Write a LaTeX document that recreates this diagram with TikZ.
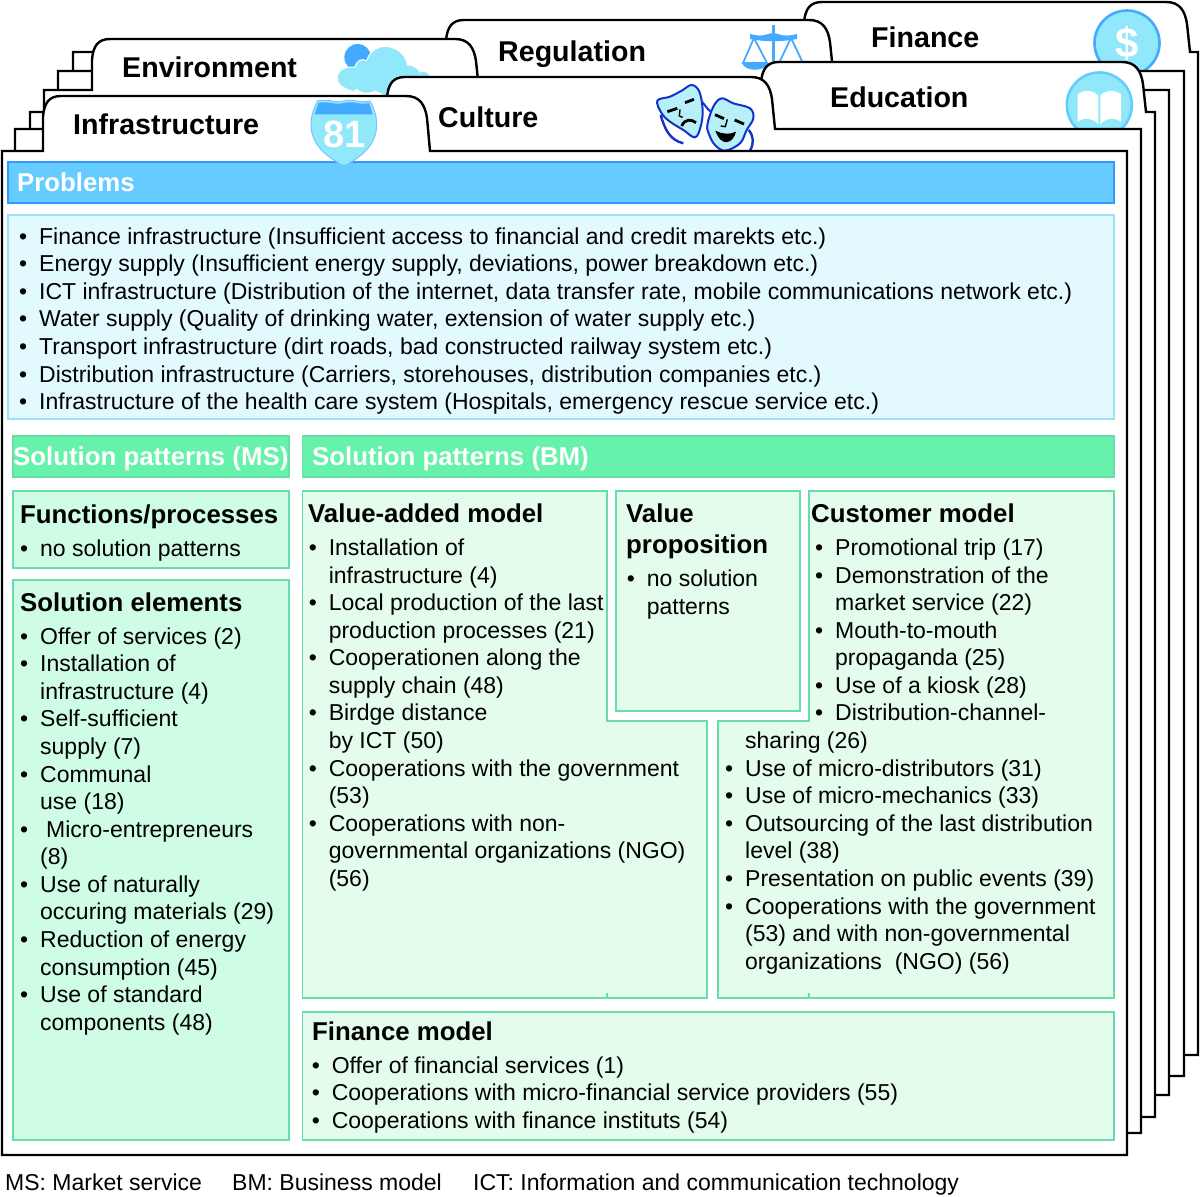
\documentclass[tikz,border=0pt]{standalone}
\usepackage{fontspec}
\setmainfont{Liberation Sans}
\usetikzlibrary{calc}
\definecolor{LBlue}{HTML}{E2F9FE}
\definecolor{MBlue}{HTML}{66CCFF}
\definecolor{DBlue}{HTML}{3399FF}
\definecolor{EBlue}{HTML}{99E2F8}
\definecolor{IBlue}{HTML}{90E8FA}
\definecolor{SBlue}{HTML}{44AAFF}
\definecolor{MaskBlue}{HTML}{1133CC}
\definecolor{MaskFill}{HTML}{B8F0FA}
\definecolor{BandGreen}{HTML}{66F2AA}
\definecolor{EdgeGreen}{HTML}{66DDAA}
\definecolor{MSGreen}{HTML}{CFFCE4}
\definecolor{BMGreen}{HTML}{E3FCEC}
\tikzset{
    sheetline/.style={draw=black, line width=2.4pt, fill=white, line join=miter},
    bandbox/.style={line width=1.3pt},
    bandtext/.style={anchor=base west, inner sep=0pt, text=white, font=\fontsize{25.8}{30}\selectfont\bfseries},
    tabtext/.style={anchor=base west, inner sep=0pt, font=\fontsize{28.6}{33}\selectfont\bfseries},
    headtext/.style={anchor=base west, inner sep=0pt, align=left, font=\fontsize{25.8}{31}\selectfont\bfseries},
    listtext/.style={anchor=north west, inner sep=0pt, align=left, font=\fontsize{23}{27.57}\selectfont},
    notetext/.style={anchor=base west, inner sep=0pt, font=\fontsize{23}{27.57}\selectfont},
}
\newcommand{\Itm}[1]{\rule{0pt}{20pt}\makebox[20pt][l]{•}#1}
\newcommand{\Cnt}[1]{\hspace*{20pt}#1}
\NewDocumentCommand{\Sheet}{mmmmmmm}{
    \draw[sheetline] (#1,#2) -- (#5,#2) -- (#5,{#6+21})
        .. controls ({#5+1},{#6+7}) and ({#5+6},#6) .. ({#5+18},#6)
        -- ({#7-24},#6)
        .. controls ({#7-10},#6) and ({#7-5},{#6+9}) .. ({#7-3},{#6+22})
        -- (#7,#2) -- (#3,#2) -- (#3,#4) -- (#1,#4) -- cycle;
}
\NewDocumentCommand{\IconDollar}{O{(0,0)}}{
    \begin{scope}[shift={#1}]
    \draw[SBlue, line width=2.6pt, fill=IBlue] (0,0) circle (32.5);
    \node (dollar-sign) at (0,0) [text=white, font=\fontsize{42}{46}\selectfont\bfseries] {\$};
    \end{scope}
}
\NewDocumentCommand{\IconBook}{O{(0,0)}}{
    \begin{scope}[shift={#1}, scale=1/3]
    \draw[MBlue, line width=2.6pt, fill=IBlue] (133,300) circle (97.5);
    \fill[white] (68,268) .. controls (90,252) and (115,255) .. (130,272) -- (130,358)
        .. controls (115,340) and (90,335) .. (68,350) -- cycle;
    \fill[white] (136,272) .. controls (151,255) and (176,252) .. (198,268) -- (198,350)
        .. controls (176,335) and (151,340) .. (136,358) -- cycle;
    \end{scope}
}
\NewDocumentCommand{\IconScale}{O{(0,0)}}{
    \begin{scope}[shift={#1}]
    \fill[SBlue] (36.5,5) rectangle (39.5,60);
    \fill[SBlue] (15,14) .. controls (30,18) and (32,13) .. (38,13)
        .. controls (44,13) and (46,18) .. (62,14) -- (62,19)
        .. controls (46,22) and (30,22) .. (15,19) -- cycle;
    \draw[SBlue, line width=1.8pt] (19,18) -- (8,43) -- (32,43) -- cycle;
    \draw[SBlue, line width=1.8pt] (56,18) -- (44,43) -- (68,43) -- cycle;
    \fill[SBlue] (7,43) .. controls (10,52) and (30,52) .. (33,43) -- cycle;
    \fill[SBlue] (43,43) .. controls (46,52) and (66,52) .. (69,43) -- cycle;
    \end{scope}
}
\NewDocumentCommand{\IconCloud}{O{(0,0)}}{
    \begin{scope}[shift={#1}, scale=1/3]
    \fill[SBlue] (113,82) circle (40);
    \draw[white, line width=1pt, fill=IBlue] (100,185)
        .. controls (70,175) and (50,165) .. (52,140)
        .. controls (55,115) and (85,108) .. (105,112)
        .. controls (110,90) and (125,85) .. (140,92)
        .. controls (150,60) and (180,45) .. (205,50)
        .. controls (240,55) and (262,85) .. (262,105)
        .. controls (285,105) and (295,118) .. (300,126)
        .. controls (320,120) and (328,130) .. (330,140)
        -- (340,200) -- (200,200)
        .. controls (180,190) and (170,185) .. (165,183)
        .. controls (145,195) and (120,190) .. (110,178) -- cycle;
    \end{scope}
}
\NewDocumentCommand{\IconMasks}{O{(0,0)}}{
    \begin{scope}[shift={#1}, scale=1/3]
    \draw[MaskBlue, line width=2pt] (150,58) .. controls (165,75) and (170,85) .. (182,95);
    \draw[MaskBlue, line width=2.4pt] (32,105) .. controls (45,150) and (60,180) .. (100,190);
    \draw[MaskBlue, line width=2.4pt] (296,150) .. controls (312,170) and (312,190) .. (300,212);
    \draw[MaskBlue, line width=2pt, fill=MaskFill] plot[smooth cycle, tension=0.6] coordinates
        {(22,62) (60,50) (95,32) (125,15) (148,35) (158,90) (152,140) (135,172) (100,150) (60,125) (35,100)};
    \draw[MaskBlue, line width=2pt, fill=MaskFill] plot[smooth cycle, tension=0.6] coordinates
        {(172,135) (190,80) (215,55) (250,70) (300,85) (310,115) (290,150) (270,190) (225,212) (195,195) (178,165)};
    \draw[black, line width=2.8pt] (52,95) -- (82,85);
    \draw[black, line width=2.8pt] (105,68) -- (132,58);
    \draw[black, line width=1.4pt] (90,88) -- (88,108) -- (98,112);
    \draw[black, line width=2.8pt] (95,138) .. controls (105,115) and (125,118) .. (138,128);
    \draw[black, line width=2.8pt] (195,104) -- (222,116);
    \draw[black, line width=2.8pt] (254,120) -- (282,132);
    \draw[black, line width=1.4pt] (232,118) -- (226,140) -- (212,138);
    \fill[black] (196,152) .. controls (215,162) and (240,165) .. (258,155)
        .. controls (250,190) and (215,205) .. (196,152) -- cycle;
    \end{scope}
}

\begin{document}
\begin{tikzpicture}[x=1pt, y=-1pt]
\useasboundingbox (0,0) rectangle (1200,1197);

% sheets, back to front
\Sheet{73}{52}{1198}{1055}{804}{2}{1190}
\IconDollar[(1127,43)]
\node (tab-finance) at (871,47) [tabtext] {Finance};

\Sheet{58}{71}{1184}{1076}{446}{20}{833}
\IconScale[(735,20)]
\node (tab-regulation) at (498,61) [tabtext] {Regulation};

\Sheet{44}{90}{1169}{1095}{92}{39}{479}
\IconCloud[(320,30)]
\node (tab-environment) at (122,77) [tabtext] {Environment};

\Sheet{30}{112}{1155}{1117}{761}{62}{1146}
\IconBook[(1055,5)]
\node (tab-education) at (830,107.5) [tabtext] {Education};

\Sheet{15}{129}{1141}{1133}{387}{77}{775}
\IconMasks[(650,80)]
\node (tab-culture) at (438,127) [tabtext] {Culture};

\Sheet{2}{151}{1127}{1155}{43}{96}{430}
\node (tab-infrastructure) at (73,134) [tabtext] {Infrastructure};

% problems
\draw[DBlue, bandbox, fill=MBlue] (8,162) rectangle (1114,203);
\begin{scope}[shift={(300,95)}, scale=1/3]
    \draw[SBlue!70, line width=1pt, fill=IBlue] (52,18) .. controls (90,10) and (100,26) .. (132,18)
        .. controls (160,10) and (180,26) .. (210,18) .. controls (222,40) and (230,60) .. (230,90)
        .. controls (230,150) and (180,190) .. (132,212) .. controls (85,190) and (33,150) .. (33,90)
        .. controls (33,60) and (42,40) .. (52,18) -- cycle;
    \fill[SBlue] (55,24) .. controls (90,16) and (100,32) .. (132,24)
        .. controls (160,16) and (180,32) .. (207,24) -- (218,58) -- (44,58) -- cycle;
    \node (shield-number) at (133,118) [text=white, font=\fontsize{38}{42}\selectfont\bfseries] {81};
\end{scope}
\node (problems-title) at (17,191) [bandtext] {Problems};
\draw[EBlue, bandbox, fill=LBlue] (8,215) rectangle (1114,419);
\node (problems-list) at (19,224) [listtext] {\Itm{Finance infrastructure (Insufficient access to financial and credit marekts etc.)}\\
\Itm{Energy supply (Insufficient energy supply, deviations, power breakdown etc.)}\\
\Itm{ICT infrastructure (Distribution of the internet, data transfer rate, mobile communications network etc.)}\\
\Itm{Water supply (Quality of drinking water, extension of water supply etc.)}\\
\Itm{Transport infrastructure (dirt roads, bad constructed railway system etc.)}\\
\Itm{Distribution infrastructure (Carriers, storehouses, distribution companies etc.)}\\
\Itm{Infrastructure of the health care system (Hospitals, emergency rescue service etc.)}};

% solution patterns, market service
\draw[EdgeGreen, bandbox, fill=BandGreen] (13,436) rectangle (289,477);
\node (ms-title) at (13,465) [bandtext] {Solution patterns (MS)};
\draw[EdgeGreen, bandbox, fill=MSGreen] (13,491) rectangle (289,568);
\node (functions-title) at (20,523) [headtext] {Functions/processes};
\node (functions-list) at (20,536.3) [listtext] {\Itm{no solution patterns}};
\draw[EdgeGreen, bandbox, fill=MSGreen] (13,580) rectangle (289,1140);
\node (elements-title) at (20,611) [headtext] {Solution elements};
\node (elements-list) at (20,624) [listtext] {\Itm{Offer of services (2)}\\
\Itm{Installation of}\\
\Cnt{infrastructure (4)}\\
\Itm{Self-sufficient}\\
\Cnt{supply (7)}\\
\Itm{Communal}\\
\Cnt{use (18)}\\
\Itm{\hspace*{6pt}Micro-entrepreneurs}\\
\Cnt{(8)}\\
\Itm{Use of naturally}\\
\Cnt{occuring materials (29)}\\
\Itm{Reduction of energy}\\
\Cnt{consumption (45)}\\
\Itm{Use of standard}\\
\Cnt{components (48)}};

% solution patterns, business model
\draw[EdgeGreen, bandbox, fill=BandGreen] (302.5,436) rectangle (1114,477);
\node (bm-title) at (312,465) [bandtext] {Solution patterns (BM)};
\draw[EdgeGreen, bandbox, fill=BMGreen] (302.5,491) -- (607,491) -- (607,721) -- (707,721) -- (707,998) -- (302.5,998) -- cycle;
\draw[EdgeGreen, bandbox] (607,998) -- (607,993);
\node (value-added-title) at (308,522) [headtext] {Value-added model};
\node (value-added-list) at (308.6,535.3) [listtext] {\Itm{Installation of}\\
\Cnt{infrastructure (4)}\\
\Itm{Local production of the last}\\
\Cnt{production processes (21)}\\
\Itm{Cooperationen along the}\\
\Cnt{supply chain (48)}\\
\Itm{Birdge distance}\\
\Cnt{by ICT (50)}\\
\Itm{Cooperations with the government}\\
\Cnt{(53)}\\
\Itm{Cooperations with non-}\\
\Cnt{governmental organizations (NGO)}\\
\Cnt{(56)}};
\draw[EdgeGreen, bandbox, fill=BMGreen] (616,491) rectangle (800,711);
\node (proposition-title) at (626,502) [headtext, anchor=north west] {\rule{0pt}{20pt}Value\\proposition};
\node (proposition-list) at (626.6,566.3) [listtext] {\Itm{no solution}\\
\Cnt{patterns}};
\draw[EdgeGreen, bandbox, fill=BMGreen] (809,491) -- (1114,491) -- (1114,998) -- (718,998) -- (718,721) -- (809,721) -- cycle;
\draw[EdgeGreen, bandbox] (809,998) -- (809,993);
\node (customer-title) at (811,522) [headtext] {Customer model};
\node (customer-upper) at (815,535.3) [listtext] {\Itm{Promotional trip (17)}\\
\Itm{Demonstration of the}\\
\Cnt{market service (22)}\\
\Itm{Mouth-to-mouth}\\
\Cnt{propaganda (25)}\\
\Itm{Use of a kiosk (28)}\\
\Itm{Distribution-channel-}};
\node (customer-lower) at (725,728.4) [listtext] {\Cnt{\rule{0pt}{20pt}sharing (26)}\\
\Itm{Use of micro-distributors (31)}\\
\Itm{Use of micro-mechanics (33)}\\
\Itm{Outsourcing of the last distribution}\\
\Cnt{level (38)}\\
\Itm{Presentation on public events (39)}\\
\Itm{Cooperations with the government}\\
\Cnt{(53) and with non-governmental}\\
\Cnt{organizations\ \ (NGO) (56)}};
\draw[EdgeGreen, bandbox, fill=BMGreen] (302.5,1012) rectangle (1114,1140);
\node (finance-title) at (312,1040) [headtext] {Finance model};
\node (finance-list) at (311.6,1053) [listtext] {\Itm{Offer of financial services (1)}\\
\Itm{Cooperations with micro-financial service providers (55)}\\
\Itm{Cooperations with finance instituts (54)}};

% abbreviations
\node (note-ms) at (5,1190) [notetext] {MS: Market service};
\node (note-bm) at (232,1190) [notetext] {BM: Business model};
\node (note-ict) at (473,1190) [notetext] {ICT: Information and communication technology};
\end{tikzpicture}
\end{document}
